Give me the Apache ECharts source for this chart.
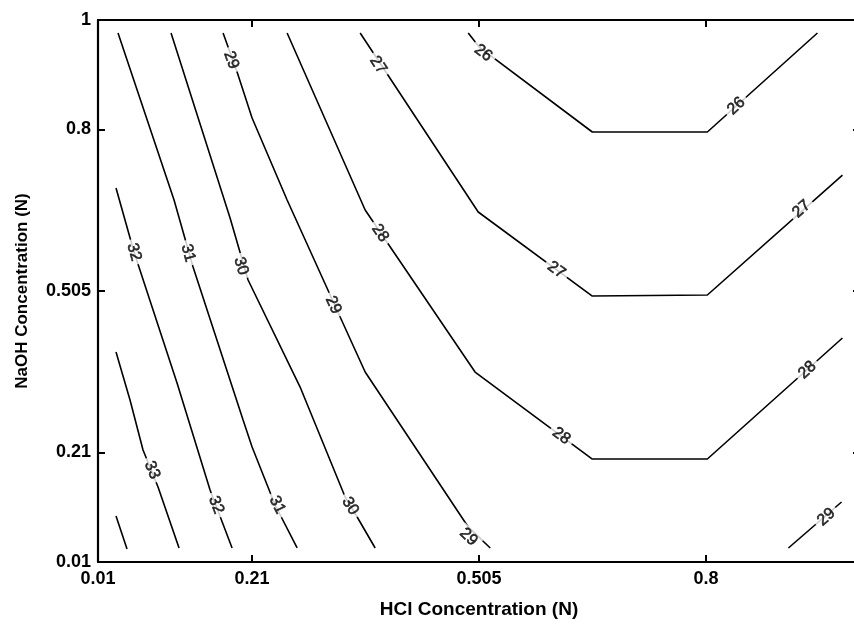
<!DOCTYPE html>
<html><head><meta charset="utf-8">
<script src="https://cdn.jsdelivr.net/npm/echarts@6/dist/echarts.min.js"></script>
<style>html,body{margin:0;padding:0;background:#fff}#c{width:854px;height:626px}</style>
</head><body><div id="c"></div>
<script>
// ---- data ----
const xTicks = [0.01, 0.21, 0.505, 0.8, 1];
const xTickLabels = [0.01, 0.21, 0.505, 0.8];
const yTicks = [0.01, 0.21, 0.505, 0.8, 1];
const xTitle = 'HCl Concentration (N)';
const yTitle = 'NaOH Concentration (N)';

const level26 = [[0.491,0.9762],[0.5053,0.9506],[0.6522,0.7954],[0.8017,0.7954],[0.9447,0.9762]];
const level27 = [[0.3506,0.9762],[0.504,0.6493],[0.6522,0.4958],[0.8017,0.4977],[0.9772,0.7168]];
const level28 = [[0.2557,0.9762],[0.3571,0.653],[0.4999,0.357],[0.6522,0.1981],[0.8017,0.1981],[0.9772,0.4191]];
const level29a = [[0.1725,0.9762],[0.1907,0.905],[0.2102,0.821],[0.2557,0.6712],[0.3246,0.4575],[0.3571,0.357],[0.491,0.0739],[0.5196,0.0356]];
const level29b = [[0.907,0.0356],[0.976,0.1196]];
const level30 = [[0.1049,0.9762],[0.1816,0.6383],[0.205,0.5251],[0.2726,0.3296],[0.3311,0.1287],[0.3467,0.0922],[0.3701,0.0356]];
const level31 = [[0.036,0.9762],[0.1088,0.6712],[0.1335,0.5488],[0.1985,0.2694],[0.2102,0.22],[0.2401,0.1141],[0.2687,0.0356]];
const level32 = [[0.0334,0.6931],[0.0568,0.5762],[0.1127,0.337],[0.1556,0.1415],[0.1842,0.0356]];
const level33 = [[0.0334,0.3936],[0.0516,0.3059],[0.0685,0.2146],[0.088,0.147],[0.1153,0.0356]];
const level34 = [[0.0334,0.094],[0.0477,0.0337]];

const contours = [
  {level:26, pts:level26},{level:27, pts:level27},{level:28, pts:level28},
  {level:29, pts:level29a},{level:29, pts:level29b},{level:30, pts:level30},
  {level:31, pts:level31},{level:32, pts:level32},{level:33, pts:level33},
  {level:34, pts:level34}
];

// label anchor points [x, y, level]
const contourLabels = [
  [0.0802,0.178,33],
  [0.0568,0.5762,32],[0.1634,0.1141,32],
  [0.127,0.5744,31],[0.2427,0.1141,31],
  [0.1959,0.5506,30],[0.3376,0.1123,30],
  [0.1829,0.9269,29],[0.3155,0.4794,29],[0.4914,0.0557,29],[0.9564,0.0922,29],
  [0.3766,0.6109,28],[0.612,0.2401,28],[0.9317,0.3607,28],
  [0.374,0.9178,27],[0.6054,0.5433,27],[0.924,0.6547,27],
  [0.5105,0.9397,26],[0.8394,0.8429,26]
];

// ---- chart ----
const FONT = '"Liberation Sans", Arial, Helvetica, sans-serif';
const chart = echarts.init(document.getElementById('c'), null, {renderer:'canvas'});

const axisLine = {show:true, onZero:false, lineStyle:{color:'#000', width:2.2}};
const tick = (vals) => ({show:true, inside:true, length:7, customValues:vals, lineStyle:{color:'#000', width:2}});
const lbl = (vals, show, margin) => ({show:show, customValues:vals, margin:margin, color:'#000',
  fontFamily:FONT, fontWeight:'bold', fontSize:18});

const option = {
  animation:false,
  backgroundColor:'#fff',
  grid:{left:98, top:20, right:-6, bottom:64, containLabel:false, outerBoundsMode:'none'},
  xAxis:[
    {type:'value', min:0.01, max:1, position:'bottom', axisLine:axisLine, axisTick:tick(xTicks),
     axisLabel:lbl(xTickLabels, true, 8), splitLine:{show:false},
     name:xTitle, nameLocation:'middle', nameGap:38,
     nameTextStyle:{fontFamily:FONT, fontWeight:'bold', fontSize:19, color:'#000'}},
    {type:'value', min:0.01, max:1, position:'top', axisLine:axisLine, axisTick:tick(xTicks),
     axisLabel:{show:false}, splitLine:{show:false}}
  ],
  yAxis:[
    {type:'value', min:0.01, max:1, position:'left', axisLine:axisLine, axisTick:tick(yTicks),
     axisLabel:lbl(yTicks, true, 7), splitLine:{show:false},
     name:yTitle, nameLocation:'middle', nameGap:67,
     nameTextStyle:{fontFamily:FONT, fontWeight:'bold', fontSize:17, color:'#000'}},
    {type:'value', min:0.01, max:1, position:'right', axisLine:axisLine, axisTick:tick(yTicks),
     axisLabel:{show:false}, splitLine:{show:false}}
  ],
  series: contours.map(c => ({
    type:'line', data:c.pts, showSymbol:false, symbol:'none', silent:true,
    lineStyle:{color:'#000', width:1.6}, z:2
  }))
};
chart.setOption(option);

function segDist(p, a, b){
  const dx=b[0]-a[0], dy=b[1]-a[1];
  const L=dx*dx+dy*dy;
  let t = L ? ((p[0]-a[0])*dx+(p[1]-a[1])*dy)/L : 0;
  t = Math.max(0, Math.min(1, t));
  const qx=a[0]+t*dx, qy=a[1]+t*dy;
  return Math.hypot(p[0]-qx, p[1]-qy);
}
function labelRotate(l){
  const p = chart.convertToPixel({seriesIndex:0}, [l[0], l[1]]);
  let best=null, bd=Infinity;
  contours.filter(c => c.level === l[2]).forEach(c => {
    const px = c.pts.map(q => chart.convertToPixel({seriesIndex:0}, q));
    for (let i=0;i<px.length-1;i++){
      const d = segDist(p, px[i], px[i+1]);
      if (d < bd){ bd=d; best=[px[i], px[i+1]]; }
    }
  });
  let ang = Math.atan2(best[1][1]-best[0][1], best[1][0]-best[0][0]) * 180/Math.PI;
  let rot = -ang;
  while (rot > 90) rot -= 180;
  while (rot < -90) rot += 180;
  return rot;
}

const labelData = contourLabels.map(l => ({
  value:[l[0], l[1], l[2]],
  label:{rotate: labelRotate(l)}
}));

chart.setOption({
  series: option.series.concat([{
    type:'scatter', data:labelData, symbolSize:1, silent:true, z:5,
    itemStyle:{color:'rgba(0,0,0,0)'},
    label:{show:true, position:'inside', formatter:p => String(p.value[2]),
      fontFamily:FONT, fontSize:16, color:'#000', textBorderColor:'#000', textBorderWidth:0.6,
      backgroundColor:'#fff', padding:[0,4]}
  }])
});
</script>
</body></html>
